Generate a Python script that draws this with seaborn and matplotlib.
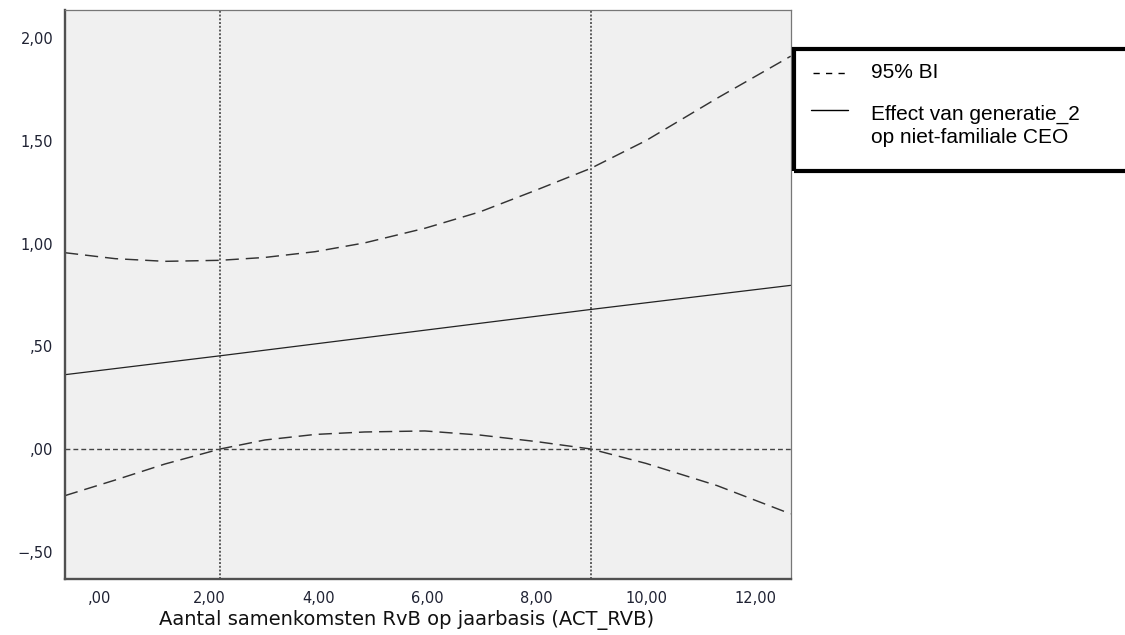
import numpy as np
import pandas as pd
import seaborn as sns
import matplotlib.pyplot as plt
from matplotlib.patches import Rectangle
from matplotlib.lines import Line2D

# Values
ci_x = [-0.64, 0.28, 1.19, 2.2, 3.02, 3.94, 4.85, 5.95, 6.96, 8.0, 8.99, 10.0, 11.3, 12.65]
ci_upper = [0.956, 0.927, 0.914, 0.919, 0.933, 0.961, 1.004, 1.075, 1.155, 1.262, 1.367, 1.502, 1.708, 1.913]
ci_lower = [-0.227, -0.151, -0.073, 0.0, 0.044, 0.071, 0.083, 0.088, 0.068, 0.036, 0.0, -0.070, -0.178, -0.316]
effect_x = [-0.64, 2.2, 9.0, 12.65]
effect_y = [0.362, 0.454, 0.680, 0.797]
jn_points = [2.2, 9.0]

x_ticks = [0, 2, 4, 6, 8, 10, 12]
x_tick_labels = [",00", "2,00", "4,00", "6,00", "8,00", "10,00", "12,00"]
y_ticks = [-0.5, 0.0, 0.5, 1.0, 1.5, 2.0]
y_tick_labels = ["\u2212,50", ",00", ",50", "1,00", "1,50", "2,00"]

x_label = "Aantal samenkomsten RvB op jaarbasis (ACT_RVB)"
legend_labels = ["95% BI", "Effect van generatie_2\nop niet-familiale CEO"]

sns.set_style("white")
plt.rcParams["font.family"] = ["DejaVu Sans"]
plt.rcParams["lines.scale_dashes"] = False

W, H = 1125, 635
fig = plt.figure(figsize=(W / 100, H / 100), dpi=100)
ax = fig.add_axes([65 / W, 1 - 579 / H, (790.7 - 65) / W, (579 - 10) / H])
ax.set_facecolor("#f0f0f0")

df = pd.DataFrame({"x": ci_x, "upper": ci_upper, "lower": ci_lower})
ci_style = dict(color="#333333", linewidth=1.05, linestyle=(0, (9.5, 5)))
sns.lineplot(data=df, x="x", y="upper", ax=ax, **ci_style)
sns.lineplot(data=df, x="x", y="lower", ax=ax, **ci_style)
sns.lineplot(x=effect_x, y=effect_y, ax=ax, color="#222222", linewidth=0.9)

ax.axhline(0, color="#444444", linewidth=1.0, linestyle=(0, (3.5, 2.2)))
for xv in jn_points:
    ax.axvline(xv, color="#444444", linewidth=1.2, linestyle=(0, (1.4, 1.3)))

ax.set_xlim(-0.64, 12.65)
ax.set_ylim(-0.633, 2.138)
ax.set_xticks(x_ticks)
ax.set_xticklabels(x_tick_labels)
ax.set_yticks(y_ticks)
ax.set_yticklabels(y_tick_labels)
ax.tick_params(axis="both", colors="#333333", labelcolor="#1f2233", labelsize=10.5, width=1.5)
ax.tick_params(axis="y", length=7, pad=1.5)
ax.tick_params(axis="x", length=5, pad=3.5)
ax.set_ylabel("")
ax.set_xlabel(x_label, fontsize=14, color="#111111")
ax.xaxis.set_label_coords(0.47, -0.055)

for side in ["left", "bottom"]:
    ax.spines[side].set_linewidth(1.7)
    ax.spines[side].set_color("#505050")
for side in ["top", "right"]:
    ax.spines[side].set_linewidth(0.9)
    ax.spines[side].set_color("#777777")

# legend box, drawn by hand so it runs off the right edge like the original
def fx(px):
    return px / W

def fy(py):
    return 1 - py / H

fig.patches.append(Rectangle((fx(793.5), fy(171.5)), fx(1140) - fx(793.5), fy(49.5) - fy(171.5),
                             transform=fig.transFigure, fill=False, edgecolor="black",
                             linewidth=3.0, clip_on=False))
fig.lines.append(Line2D([fx(813), fx(848)], [fy(73), fy(73)], transform=fig.transFigure,
                        color="black", linewidth=1.0, linestyle=(0, (4.5, 4.5))))
fig.lines.append(Line2D([fx(811), fx(848)], [fy(109.5), fy(109.5)], transform=fig.transFigure,
                        color="black", linewidth=1.0))
fig.text(fx(871), fy(73), legend_labels[0], fontsize=15, family=["Liberation Sans"],
         va="center", ha="left", color="black")
fig.text(fx(871), fy(105), legend_labels[1], fontsize=15, family=["Liberation Sans"],
         va="top", ha="left", color="black", linespacing=1.25)

plt.savefig("out.png", dpi=100)
plt.close()
